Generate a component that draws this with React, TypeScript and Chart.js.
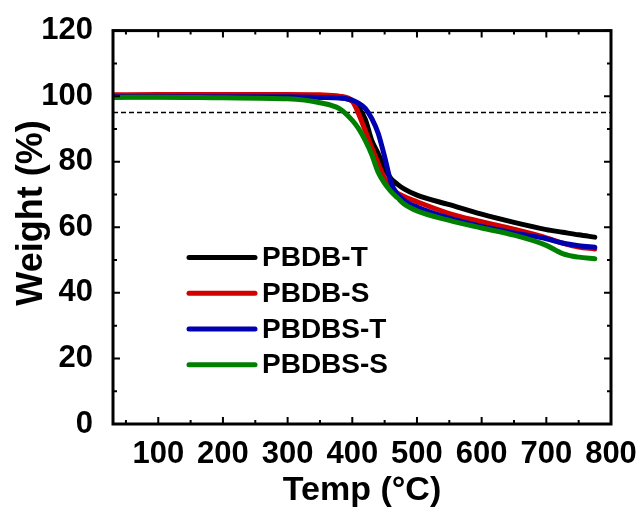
import React, { useEffect, useRef } from 'react';
import { Chart, registerables } from 'chart.js';

Chart.register(...registerables);

// ---- data ----
const TEMPS = [30, 100, 200, 300, 350, 380, 400, 410, 420, 430, 440, 450, 460, 470, 480, 500, 550, 600, 650, 700, 725, 750, 775];
const PBDB_T = [100.0, 100.0, 100.1, 100.1, 100.0, 99.6, 98.5, 96.5, 93.0, 86.5, 82.5, 78.0, 74.8, 73.1, 71.7, 69.8, 66.9, 64.0, 61.5, 59.3, 58.5, 57.7, 57.0];
const PBDB_S = [100.4, 100.5, 100.5, 100.5, 100.4, 100.0, 98.5, 94.5, 89.5, 84.4, 79.5, 74.8, 72.2, 70.4, 69.4, 67.8, 64.2, 61.7, 59.4, 56.8, 55.2, 54.0, 53.4];
const PBDBS_T = [99.8, 99.8, 99.8, 99.8, 99.6, 99.4, 98.8, 97.8, 96.3, 93.2, 88.7, 81.5, 73.6, 70.0, 68.2, 66.2, 62.8, 60.3, 58.3, 56.5, 55.2, 54.4, 53.9];
const PBDBS_S = [99.6, 99.7, 99.5, 99.2, 98.0, 96.2, 92.6, 90.0, 86.5, 82.2, 76.8, 73.4, 70.9, 69.0, 67.1, 65.0, 62.1, 59.8, 57.6, 54.5, 52.0, 50.9, 50.4];

const SERIES_LABELS = ['PBDB-T', 'PBDB-S', 'PBDBS-T', 'PBDBS-S'];
const SERIES_VALUES = [PBDB_T, PBDB_S, PBDBS_T, PBDBS_S];
const SERIES_COLORS = ['#000000', '#d20000', '#0000b0', '#008000'];

const THRESHOLD = 95;
const X_MIN = 30;
const X_MAX = 800;
const Y_MIN = 0;
const Y_MAX = 120;
const X_TICKS = [100, 200, 300, 400, 500, 600, 700, 800];
const X_MINOR = [50, 150, 250, 350, 450, 550, 650, 750];
const Y_TICKS = [0, 20, 40, 60, 80, 100, 120];
const Y_MINOR = [10, 30, 50, 70, 90, 110];

const X_TITLE = 'Temp (°C)';
const Y_TITLE = 'Weight (%)';

const FONT = '"Liberation Sans", Arial, sans-serif';

const framePlugin = {
  id: 'framePlugin',
  afterDraw(chart: any) {
    const { ctx, chartArea } = chart;
    const { left, right, top, bottom } = chartArea;
    const xs = chart.scales.x;
    const ys = chart.scales.y;
    ctx.save();
    ctx.strokeStyle = '#000';
    ctx.lineCap = 'butt';
    // ticks (inward, all sides)
    ctx.lineWidth = 2;
    const drawX = (vals: number[], len: number) => {
      vals.forEach((v) => {
        const px = xs.getPixelForValue(v);
        if (px < left || px > right) return;
        ctx.beginPath();
        ctx.moveTo(px, bottom);
        ctx.lineTo(px, bottom - len);
        ctx.moveTo(px, top);
        ctx.lineTo(px, top + len);
        ctx.stroke();
      });
    };
    const drawY = (vals: number[], len: number) => {
      vals.forEach((v) => {
        const py = ys.getPixelForValue(v);
        ctx.beginPath();
        ctx.moveTo(left, py);
        ctx.lineTo(left + len, py);
        ctx.moveTo(right, py);
        ctx.lineTo(right - len, py);
        ctx.stroke();
      });
    };
    drawX(X_TICKS, 7);
    drawX(X_MINOR, 4);
    drawY(Y_TICKS, 7);
    drawY(Y_MINOR, 4);
    // frame
    ctx.lineWidth = 3;
    ctx.strokeRect(left, top, right - left, bottom - top);

    // legend
    const lx0 = left + 76;
    const lx1 = left + 142;
    const ty = top + 227;
    const step = 35.7;
    ctx.font = `bold 28px ${FONT}`;
    ctx.textBaseline = 'middle';
    ctx.textAlign = 'left';
    SERIES_LABELS.forEach((lab, i) => {
      const y = ty + i * step;
      ctx.strokeStyle = SERIES_COLORS[i];
      ctx.lineWidth = 5;
      ctx.lineCap = 'round';
      ctx.beginPath();
      ctx.moveTo(lx0, y);
      ctx.lineTo(lx1, y);
      ctx.stroke();
      ctx.fillStyle = '#000';
      ctx.fillText(lab, lx1 + 7, y + 1);
    });

    // axis titles
    ctx.fillStyle = '#000';
    ctx.font = `bold 34px ${FONT}`;
    ctx.textAlign = 'center';
    ctx.textBaseline = 'alphabetic';
    ctx.fillText(X_TITLE, (left + right) / 2, 500);
    ctx.save();
    ctx.translate(42, 213);
    ctx.rotate(-Math.PI / 2);
    ctx.font = `bold 36px ${FONT}`;
    ctx.fillText(Y_TITLE, 0, 0);
    ctx.restore();
    ctx.restore();
  },
};

export default function App() {
  const ref = useRef<HTMLCanvasElement | null>(null);
  useEffect(() => {
    document.body.style.margin = '0';
    const canvas = ref.current;
    if (!canvas) return;
    const datasets: any[] = SERIES_LABELS.map((lab, i) => ({
      label: lab,
      data: TEMPS.map((t, j) => ({ x: t, y: SERIES_VALUES[i][j] })),
      borderColor: SERIES_COLORS[i],
      backgroundColor: SERIES_COLORS[i],
      borderWidth: 5,
      pointRadius: 0,
      fill: false,
      cubicInterpolationMode: 'monotone',
      borderCapStyle: 'round',
      borderJoinStyle: 'round',
      order: SERIES_LABELS.length - i,
    }));
    datasets.push({
      label: 'threshold',
      data: [
        { x: X_MIN, y: THRESHOLD },
        { x: X_MAX, y: THRESHOLD },
      ],
      borderColor: '#000',
      borderWidth: 1.6,
      borderDash: [5, 3],
      pointRadius: 0,
      fill: false,
      order: 10,
    });
    const tickFont = { family: FONT, size: 31, weight: 'bold' as const };
    const chart = new Chart(canvas, {
      type: 'line',
      data: { datasets },
      plugins: [framePlugin],
      options: {
        animation: false,
        responsive: false,
        devicePixelRatio: 1,
        layout: { padding: { top: 29, right: 32, left: 0, bottom: 0 } },
        plugins: { legend: { display: false }, tooltip: { enabled: false } },
        scales: {
          x: {
            type: 'linear',
            min: X_MIN,
            max: X_MAX,
            grid: { display: false },
            border: { display: false },
            ticks: { font: tickFont, color: '#000', padding: 4, maxRotation: 0, autoSkip: false },
            afterBuildTicks: (s: any) => {
              s.ticks = X_TICKS.map((v) => ({ value: v }));
            },
            afterFit: (s: any) => {
              s.height = 88;
            },
          },
          y: {
            type: 'linear',
            min: Y_MIN,
            max: Y_MAX,
            grid: { display: false },
            border: { display: false },
            ticks: { font: tickFont, color: '#000', padding: 12 },
            afterBuildTicks: (s: any) => {
              s.ticks = Y_TICKS.map((v) => ({ value: v }));
            },
            afterFit: (s: any) => {
              s.width = 113;
            },
          },
        },
      },
    });
    return () => chart.destroy();
  }, []);
  return (
    <div style={{ width: 643, height: 512 }}>
      <canvas ref={ref} width={643} height={512} style={{ display: 'block' }} />
    </div>
  );
}
